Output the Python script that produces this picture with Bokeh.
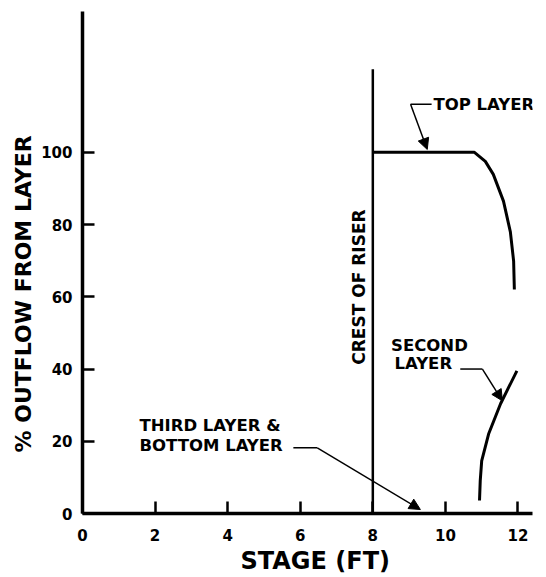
import math
from bokeh.plotting import figure
from bokeh.models import Range1d, FixedTicker, Arrow, NormalHead, ColumnDataSource, Title
from bokeh.core.properties import value
from bokeh.embed import file_html
from bokeh.resources import INLINE

FONT = "DejaVu Sans"
W, H = 546, 577

# --- data ---
x_ticks = [0, 2, 4, 6, 8, 10, 12]
y_ticks = [0, 20, 40, 60, 80, 100]

crest_x = [8, 8]
crest_y = [0, 123]

top_x = [8.0, 10.8, 11.1, 11.32, 11.6, 11.79, 11.88, 11.9]
top_y = [100, 100, 97.5, 93.9, 86.5, 78.0, 69.9, 62.0]

second_x = [10.94, 10.96, 11.0, 11.19, 11.52, 11.97]
second_y = [3.6, 9.1, 14.6, 22.0, 30.4, 39.5]

third_x = [8.0, 12.0]
third_y = [0, 0]

# labels
lab_x = [9.67, 9.56, 9.39, 1.57, 1.57]
lab_y = [113.3, 46.4, 41.4, 24.3, 18.8]
lab_t = ["TOP LAYER", "SECOND", "LAYER", "THIRD LAYER &", "BOTTOM LAYER"]
lab_align = ["left", "center", "center", "left", "left"]

# leaders: horizontal stub + arrow
stub_x0 = [9.04, 10.41, 5.81]
stub_x1 = [9.62, 11.02, 6.47]
stub_y = [113.3, 40.0, 18.2]
arr_x1 = [9.5, 11.57, 9.31]
arr_y1 = [100.8, 31.2, 1.1]

p = figure(width=W, height=H, x_range=Range1d(0, 12.4), y_range=Range1d(0, 139),
           output_backend="svg", toolbar_location=None,
           min_border_left=82, min_border_right=14, min_border_top=11, min_border_bottom=64)
p.outline_line_color = None
p.grid.visible = False
p.background_fill_color = "white"

for ax in (p.xaxis[0], p.yaxis[0]):
    ax.axis_line_width = 3.5
    ax.axis_line_color = "black"
    ax.major_tick_line_width = 2.5
    ax.major_tick_in = 12
    ax.major_tick_out = 0
    ax.minor_tick_line_color = None
    ax.major_label_text_font = FONT
    ax.major_label_text_font_style = "bold"
    ax.major_label_text_font_size = "15px"
    ax.major_label_text_color = "black"

p.xaxis.ticker = FixedTicker(ticks=x_ticks)
p.yaxis.ticker = FixedTicker(ticks=y_ticks)
p.xaxis.major_label_standoff = 15
p.yaxis.major_label_standoff = 10

# axis titles as side titles, so they can sit where the original has them
p.add_layout(Title(text="STAGE (FT)", align="left", offset=158, standoff=2,
                   text_font=FONT, text_font_style="bold", text_font_size="24px",
                   text_color="black"), "below")
p.add_layout(Title(text="% OUTFLOW FROM LAYER", align="left", offset=61, standoff=4,
                   vertical_align="middle",
                   text_font=FONT, text_font_style="bold", text_font_size="22px",
                   text_color="black"), "left")

p.line(third_x, third_y, line_color="black", line_width=2.5)
p.line(crest_x, crest_y, line_color="black", line_width=2.5)
p.line(top_x, top_y, line_color="black", line_width=3)
p.line(second_x, second_y, line_color="black", line_width=3)

p.text(x=[7.63], y=[62.7], text=["CREST OF RISER"], angle=math.pi / 2,
       text_font=value(FONT), text_font_style="bold", text_font_size="17px",
       text_align="center", text_baseline="middle", text_color="black")

src = ColumnDataSource(dict(x=lab_x, y=lab_y, t=lab_t, a=lab_align))
p.text(x="x", y="y", text="t", text_align="a", source=src,
       text_font=value(FONT), text_font_style="bold", text_font_size="16.5px",
       text_baseline="middle", text_color="black")

p.segment(x0=stub_x0, y0=stub_y, x1=stub_x1, y1=stub_y, line_color="black", line_width=1.5)
for i in range(len(stub_x0)):
    p.add_layout(Arrow(end=NormalHead(size=11, fill_color="black", line_color="black", line_width=1),
                       x_start=stub_x0[i] if i == 0 else stub_x1[i], y_start=stub_y[i],
                       x_end=arr_x1[i], y_end=arr_y1[i], line_width=1.5, line_color="black"))

open("out.html", "w").write(file_html(p, INLINE))
